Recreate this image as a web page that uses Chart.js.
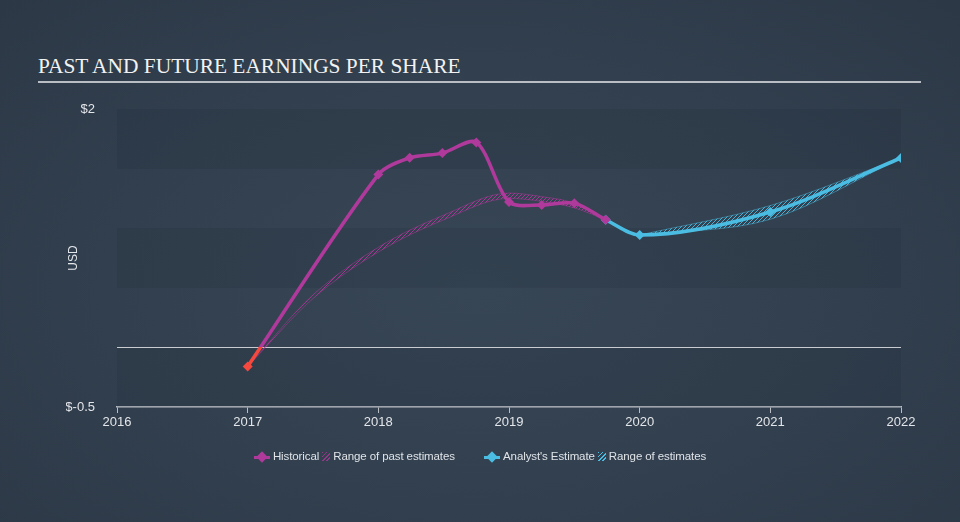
<!DOCTYPE html>
<html>
<head>
<meta charset="utf-8">
<script src="https://cdn.jsdelivr.net/npm/chart.js@4.4.1/dist/chart.umd.min.js"></script>
<style>
  html, body { margin: 0; padding: 0; }
  body {
    width: 960px; height: 522px; overflow: hidden; position: relative;
    background: radial-gradient(ellipse at 50% 55%, #374655 0%, #323f4e 55%, #2c3846 100%);
    font-family: "Liberation Sans Narrow", "Liberation Sans", Arial, sans-serif;
  }
  #title {
    position: absolute; left: 38px; top: 55px; width: 883px;
    font-family: "Liberation Serif", "DejaVu Serif", serif;
    font-size: 21.4px; color: #f2f2f2;
    border-bottom: 2px solid #b9bec4; padding-bottom: 3px; line-height: 23px;
  }
  #wrap { position: absolute; left: 0; top: 0; width: 960px; height: 522px; }
  #legend {
    position: absolute; top: 449px; left: 0; width: 960px; text-align: center;
    font-size: 11.5px; color: #dfe3e8; white-space: nowrap; letter-spacing: -0.1px;
  }
  .item { display: inline-block; vertical-align: middle; margin: 0 6px; }
  .ico { display: inline-block; position: relative; width: 16px; height: 10px; vertical-align: middle; margin-right: 3px; }
  .ico .ln { position: absolute; left: 0; top: 4px; width: 16px; height: 3px; }
  .ico .dm { position: absolute; left: 4px; top: 1px; width: 8px; height: 8px; transform: rotate(45deg); }
  .hatch { display: inline-block; width: 8px; height: 9px; vertical-align: middle; margin: 0 3px 0 3px; }
</style>
</head>
<body>
<div id="title">PAST AND FUTURE EARNINGS PER SHARE</div>
<div id="wrap"><canvas id="chart" width="960" height="522"></canvas></div>
<div id="legend">
  <span class="item"><span class="ico"><span class="ln" style="background:#b0399c"></span><span class="dm" style="background:#b0399c"></span></span>Historical<span class="hatch" style="background:repeating-linear-gradient(135deg, #8e3a86 0 1.2px, transparent 1.2px 3px)"></span>Range of past estimates</span>
  <span class="item" style="margin-left:20px"><span class="ico"><span class="ln" style="background:#4bbde3"></span><span class="dm" style="background:#4bbde3"></span></span>Analyst's Estimate<span class="hatch" style="background:repeating-linear-gradient(135deg, #4bbde3 0 1.2px, transparent 1.2px 3px)"></span>Range of estimates</span>
</div>
<script>
// data
const histYears = [2017.0, 2018.0, 2018.24, 2018.49, 2018.75, 2019.0, 2019.25, 2019.5, 2019.74];
const histEps   = [-0.16, 1.45, 1.59, 1.63, 1.72, 1.22, 1.195, 1.21, 1.07];

const estYears = [2019.74, 2020.0, 2021.0, 2022.0];
const estEps   = [1.07, 0.943, 1.136, 1.589];

const estRangeYears = [2020.0, 2021.0, 2022.0];
const estHigh = [0.943, 1.19, 1.589];
const estLow  = [0.943, 1.075, 1.589];

const pastRangeYears = [2017.0, 2017.5, 2018.0, 2018.5, 2019.0, 2019.25, 2019.5, 2019.74];
const pastHigh = [-0.16, 0.44, 0.84, 1.11, 1.295, 1.265, 1.21, 1.07];
const pastLow  = [-0.16, 0.41, 0.80, 1.07, 1.25, 1.225, 1.17, 1.07];

const xTicks = [2016, 2017, 2018, 2019, 2020, 2021, 2022];
const yTicks = [-0.5, 2];

const MAGENTA = '#b0399c';
const CYAN = '#4bbde3';
const RED = '#f5483e';

function pts(xs, ys) { return xs.map((x, i) => ({ x: x, y: ys[i] })); }

function hatch(color) {
  const c = document.createElement('canvas');
  c.width = 4; c.height = 4;
  const g = c.getContext('2d');
  g.strokeStyle = color; g.lineWidth = 1;
  g.beginPath();
  g.moveTo(0, 4); g.lineTo(4, 0);
  g.moveTo(-1, 1); g.lineTo(1, -1);
  g.moveTo(3, 5); g.lineTo(5, 3);
  g.stroke();
  return document.getElementById('chart').getContext('2d').createPattern(c, 'repeat');
}

// red below zero, magenta above
function histColor(ctx) {
  const chart = ctx.chart;
  const area = chart.chartArea;
  if (!area) return MAGENTA;
  const zero = chart.scales.y.getPixelForValue(0);
  const g = chart.ctx.createLinearGradient(0, area.top, 0, area.bottom);
  const stop = Math.min(1, Math.max(0, (zero - area.top) / (area.bottom - area.top)));
  g.addColorStop(0, MAGENTA);
  g.addColorStop(stop, MAGENTA);
  g.addColorStop(stop, RED);
  g.addColorStop(1, RED);
  return g;
}
function histPointColor(ctx) {
  const v = ctx.raw && ctx.raw.y;
  return v < 0 ? RED : MAGENTA;
}

const bands = {
  id: 'bands',
  beforeDatasetsDraw(chart) {
    const { ctx, chartArea: a, scales: { y } } = chart;
    ctx.save();
    for (let v = -0.5; v < 2; v += 0.5) {
      const top = y.getPixelForValue(v + 0.5);
      const bot = y.getPixelForValue(v);
      const idx = Math.round((v + 0.5) / 0.5);
      ctx.fillStyle = idx % 2 === 0 ? 'rgba(30,40,54,0.17)' : 'rgba(60,75,92,0.07)';
      ctx.fillRect(a.left, top, a.right - a.left, bot - top);
    }
    const z = Math.round(y.getPixelForValue(0)) + 0.5;
    ctx.strokeStyle = '#c9cdd2';
    ctx.lineWidth = 1.2;
    ctx.beginPath();
    ctx.moveTo(a.left, z); ctx.lineTo(a.right, z);
    ctx.stroke();
    ctx.restore();
  }
};

const pastPattern = hatch('rgba(176,57,156,0.9)');
const estPattern = hatch('rgba(75,189,227,0.9)');

new Chart(document.getElementById('chart'), {
  type: 'line',
  data: {
    datasets: [
      {
        label: 'pastHigh', data: pts(pastRangeYears, pastHigh),
        borderColor: 'rgba(176,57,156,0.6)', borderWidth: 0.8, pointRadius: 0,
        cubicInterpolationMode: 'monotone', fill: '+1', backgroundColor: pastPattern, order: 5
      },
      {
        label: 'pastLow', data: pts(pastRangeYears, pastLow),
        borderColor: 'rgba(176,57,156,0.6)', borderWidth: 0.8, pointRadius: 0,
        cubicInterpolationMode: 'monotone', fill: false, order: 5
      },
      {
        label: 'estHigh', data: pts(estRangeYears, estHigh),
        borderColor: 'rgba(75,189,227,0.6)', borderWidth: 0.8, pointRadius: 0,
        cubicInterpolationMode: 'monotone', fill: '+1', backgroundColor: estPattern, order: 4
      },
      {
        label: 'estLow', data: pts(estRangeYears, estLow),
        borderColor: 'rgba(75,189,227,0.6)', borderWidth: 0.8, pointRadius: 0,
        cubicInterpolationMode: 'monotone', fill: false, order: 4
      },
      {
        label: 'Analyst\'s Estimate', data: pts(estYears, estEps),
        borderColor: CYAN, backgroundColor: CYAN, borderWidth: 3.5,
        pointStyle: 'rectRot', pointRadius: 5, pointBorderWidth: 0,
        cubicInterpolationMode: 'monotone', fill: false, order: 2
      },
      {
        label: 'Historical', data: pts(histYears, histEps),
        borderColor: histColor, borderWidth: 3.5,
        pointBackgroundColor: histPointColor, pointBorderWidth: 0,
        pointStyle: 'rectRot', pointRadius: 5,
        tension: 0.3, fill: false, order: 1
      }
    ]
  },
  options: {
    responsive: false,
    animation: false,
    layout: { padding: { left: 66, top: 109, right: 59, bottom: 85 } },
    plugins: { legend: { display: false }, tooltip: { enabled: false } },
    scales: {
      x: {
        type: 'linear', min: 2016, max: 2022,
        afterBuildTicks(s) { s.ticks = xTicks.map(v => ({ value: v })); },
        afterFit(s) { s.height = 30; },
        ticks: {
          color: '#e3e6ea', padding: 2, maxRotation: 0,
          font: { family: '"Liberation Sans Narrow", "Liberation Sans", sans-serif', size: 13 },
          callback: v => String(v)
        },
        grid: { display: true, drawOnChartArea: false, drawTicks: true, tickLength: 6, color: '#b9bec4', lineWidth: 1 },
        border: { display: true, color: '#b9bec4', width: 1.5 }
      },
      y: {
        min: -0.5, max: 2,
        afterBuildTicks(s) { s.ticks = yTicks.map(v => ({ value: v })); },
        afterFit(s) { s.width = 51; },
        ticks: {
          color: '#e3e6ea', padding: 14,
          font: { family: '"Liberation Sans Narrow", "Liberation Sans", sans-serif', size: 13 },
          callback: v => '$' + v
        },
        grid: { display: false },
        border: { display: false },
        title: {
          display: true, text: 'USD', color: '#e3e6ea', padding: 0,
          font: { family: '"Liberation Sans", sans-serif', size: 12 }
        }
      }
    }
  },
  plugins: [bands]
});
</script>
</body>
</html>
